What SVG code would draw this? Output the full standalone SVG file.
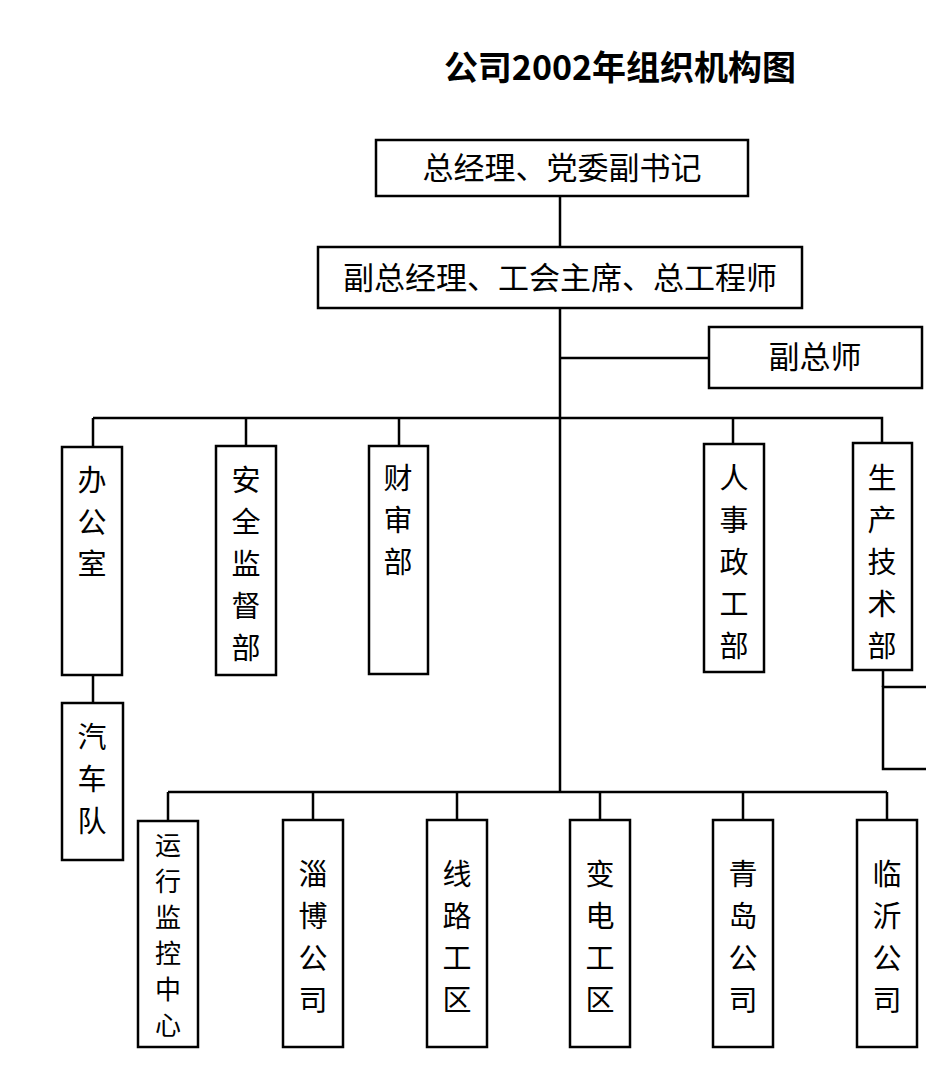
<svg xmlns="http://www.w3.org/2000/svg" width="926" height="1078" viewBox="0 0 926 1078">
<style>
.b{fill:#fff;stroke:#000;stroke-width:2.5}
.l{stroke:#000;stroke-width:2.5;fill:none}
text{font-family:"Noto Sans CJK SC","Liberation Sans",sans-serif;fill:#000;text-anchor:middle}
.t{font-size:31px}
.v{font-size:29px}
.s{font-size:26px}
</style>
<rect width="926" height="1078" fill="#fff"/>
<text x="620" y="80" style="font-size:34px;font-weight:bold">公司2002年组织机构图</text>
<g id="connectors">
<path class="l" d="M560 196V792M560 358H709M93 418H882V443M93 418V447M246 418V446M399 418V446M733 418V444M93 675V703M168 792H887M168 792V821M313 792V820M457 792V820M600 792V820M743 792V820M887 792V820M883 670V687"/>
</g>
<g id="n1"><rect class="b" x="376" y="140" width="372" height="56"/><text class="t" x="562" y="179">总经理、党委副书记</text></g>
<g id="n2"><rect class="b" x="318" y="247" width="484" height="61"/><text class="t" x="560" y="289">副总经理、工会主席、总工程师</text></g>
<g id="n3"><rect class="b" x="709" y="327" width="213" height="61"/><text class="t" x="815" y="368">副总师</text></g>
<g id="n4"><rect class="b" x="62" y="447" width="60" height="228"/><text class="v" x="92"><tspan x="92" y="491">办</tspan><tspan x="92" y="533">公</tspan><tspan x="92" y="575">室</tspan></text></g>
<g id="n5"><rect class="b" x="216" y="446" width="60" height="229"/><text class="v" x="246"><tspan x="246" y="491">安</tspan><tspan x="246" y="533">全</tspan><tspan x="246" y="575">监</tspan><tspan x="246" y="617">督</tspan><tspan x="246" y="659">部</tspan></text></g>
<g id="n6"><rect class="b" x="369" y="446" width="59" height="228"/><text class="v" x="398"><tspan x="398" y="489">财</tspan><tspan x="398" y="531">审</tspan><tspan x="398" y="573">部</tspan></text></g>
<g id="n7"><rect class="b" x="704" y="444" width="60" height="228"/><text class="v" x="734"><tspan x="734" y="489">人</tspan><tspan x="734" y="531">事</tspan><tspan x="734" y="573">政</tspan><tspan x="734" y="615">工</tspan><tspan x="734" y="657">部</tspan></text></g>
<g id="n8"><rect class="b" x="853" y="443" width="59" height="227"/><text class="v" x="882"><tspan x="882" y="489">生</tspan><tspan x="882" y="531">产</tspan><tspan x="882" y="573">技</tspan><tspan x="882" y="615">术</tspan><tspan x="882" y="657">部</tspan></text></g>
<g id="n9"><rect class="b" x="883" y="687" width="80" height="82"/></g>
<g id="n10"><rect class="b" x="62" y="703" width="61" height="157"/><text class="v" x="92"><tspan x="92" y="748">汽</tspan><tspan x="92" y="790">车</tspan><tspan x="92" y="832">队</tspan></text></g>
<g id="n11"><rect class="b" x="138" y="821" width="60" height="226"/><text class="s" x="168"><tspan x="168" y="855">运</tspan><tspan x="168" y="891">行</tspan><tspan x="168" y="927">监</tspan><tspan x="168" y="963">控</tspan><tspan x="168" y="999">中</tspan><tspan x="168" y="1035">心</tspan></text></g>
<g id="n12"><rect class="b" x="283" y="820" width="60" height="227"/><text class="v" x="313"><tspan x="313" y="885">淄</tspan><tspan x="313" y="927">博</tspan><tspan x="313" y="969">公</tspan><tspan x="313" y="1011">司</tspan></text></g>
<g id="n13"><rect class="b" x="427" y="820" width="60" height="227"/><text class="v" x="457"><tspan x="457" y="885">线</tspan><tspan x="457" y="927">路</tspan><tspan x="457" y="969">工</tspan><tspan x="457" y="1011">区</tspan></text></g>
<g id="n14"><rect class="b" x="570" y="820" width="60" height="227"/><text class="v" x="600"><tspan x="600" y="885">变</tspan><tspan x="600" y="927">电</tspan><tspan x="600" y="969">工</tspan><tspan x="600" y="1011">区</tspan></text></g>
<g id="n15"><rect class="b" x="713" y="820" width="60" height="227"/><text class="v" x="743"><tspan x="743" y="885">青</tspan><tspan x="743" y="927">岛</tspan><tspan x="743" y="969">公</tspan><tspan x="743" y="1011">司</tspan></text></g>
<g id="n16"><rect class="b" x="857" y="820" width="60" height="227"/><text class="v" x="887"><tspan x="887" y="885">临</tspan><tspan x="887" y="927">沂</tspan><tspan x="887" y="969">公</tspan><tspan x="887" y="1011">司</tspan></text></g>
</svg>
